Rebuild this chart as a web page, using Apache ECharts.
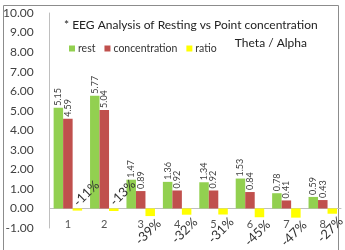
<!DOCTYPE html>
<html>
<head>
<meta charset="utf-8">
<script src="https://cdn.jsdelivr.net/npm/echarts@6/dist/echarts.min.js"></script>
<style>
  html, body { margin: 0; padding: 0; background: #fff; }
</style>
</head>
<body>
<div id="chart" style="width: 345px; height: 250px"></div>
<script>
var categories = ['1', '2', '3', '4', '5', '6', '7', '8']
var rest = [5.15, 5.77, 1.47, 1.36, 1.34, 1.53, 0.78, 0.59]
var concentration = [4.59, 5.04, 0.89, 0.92, 0.92, 0.84, 0.41, 0.43]
var ratio = [-0.11, -0.13, -0.39, -0.32, -0.31, -0.45, -0.47, -0.27]

var font = 'Lato'

// label offsets get rotated with the text, so turn a screen shift into the 45deg frame
function rotOffset (dx, dy) {
  var k = Math.SQRT1_2
  return [(dx - dy) * k, (dx + dy) * k]
}

// the first two ratio labels sit above the axis in the original
var ratioData = ratio.map(function (v, i) {
  if (i === 0) return { value: v, label: { offset: rotOffset(9, -17) } }
  if (i === 1) return { value: v, label: { offset: rotOffset(9, -18) } }
  return v
})

var valueLabel = {
  show: true,
  position: 'top',
  rotate: 90,
  align: 'left',
  verticalAlign: 'middle',
  distance: 2,
  fontFamily: font,
  fontSize: 9,
  color: '#404040',
  formatter: function (p) { return p.value.toFixed(2) }
}

var chart = echarts.init(document.getElementById('chart'))
chart.setOption({
  animation: false,
  textStyle: { fontFamily: font },
  title: [
    {
      text: '* EEG Analysis of Resting vs Point concentration',
      left: 59,
      top: 14,
      textStyle: { fontFamily: font, fontSize: 12, fontWeight: 'normal', color: '#222' }
    },
    {
      text: 'Theta / Alpha',
      right: 33,
      top: 32,
      textStyle: { fontFamily: font, fontSize: 12, fontWeight: 'normal', color: '#222' }
    }
  ],
  legend: {
    left: 64,
    top: 38,
    itemWidth: 6,
    itemHeight: 6,
    itemGap: 9,
    icon: 'rect',
    textStyle: { fontFamily: font, fontSize: 10.5, color: '#333', padding: [0, 0, 0, -2] },
    data: ['rest', 'concentration', 'ratio']
  },
  graphic: [
    {
      type: 'rect',
      shape: { x: 3.5, y: 5.5, width: 335, height: 260 },
      style: { fill: 'none', stroke: '#8c8c8c', lineWidth: 1 },
      silent: true
    }
  ],
  grid: { left: 47, right: 4, top: 13, bottom: 22 },
  xAxis: {
    type: 'category',
    data: categories,
    axisLine: { onZero: true, lineStyle: { color: '#bfbfbf' } },
    axisTick: { show: false },
    axisLabel: { fontFamily: font, fontSize: 11, color: '#555', margin: -9 }
  },
  yAxis: {
    type: 'value',
    min: -1,
    max: 10,
    interval: 1,
    axisLine: { show: true, lineStyle: { color: '#bfbfbf' } },
    axisTick: { show: false },
    splitLine: { show: false },
    axisLabel: {
      fontFamily: font,
      fontSize: 12,
      color: '#404040',
      margin: 16,
      formatter: function (v) { return v.toFixed(2) }
    }
  },
  series: [
    {
      name: 'rest',
      type: 'bar',
      data: rest,
      barWidth: 9.5,
      barGap: '0%',
      itemStyle: { color: '#92d050' },
      label: valueLabel
    },
    {
      name: 'concentration',
      type: 'bar',
      data: concentration,
      barWidth: 9.5,
      barGap: '0%',
      itemStyle: { color: '#c0504d' },
      label: valueLabel
    },
    {
      name: 'ratio',
      type: 'bar',
      data: ratioData,
      barWidth: 9.5,
      barGap: '0%',
      itemStyle: { color: '#ffff00' },
      label: {
        show: true,
        position: 'bottom',
        rotate: 45,
        align: 'center',
        verticalAlign: 'middle',
        distance: 0,
        offset: rotOffset(-2, 16),
        fontFamily: font,
        fontSize: 13,
        color: '#333',
        formatter: function (p) { return Math.round(p.value * 100) + '%' }
      }
    }
  ]
})
</script>
</body>
</html>
